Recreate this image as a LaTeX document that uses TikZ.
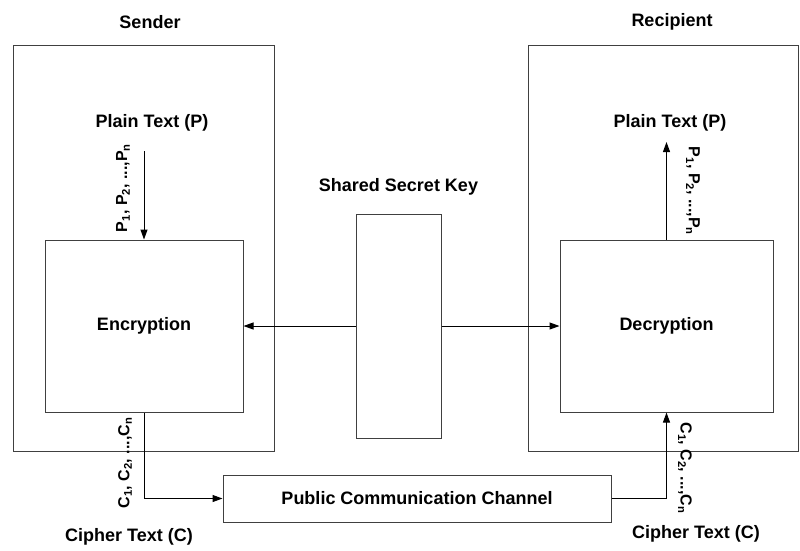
\documentclass[tikz,border=0pt]{standalone}
\usepackage{fontspec}
\setmainfont{Liberation Sans}
\usetikzlibrary{arrows.meta,calc}

\tikzset{
  box/.style={draw=black!75, line width=1pt, rectangle, inner sep=0pt},
  lbl/.style={font=\fontsize{18}{22}\selectfont\bfseries, inner sep=0pt},
  seq/.style={font=\fontsize{16}{20}\selectfont\bfseries, inner sep=0pt},
  arr/.style={draw=black, line width=1pt, -{Triangle[length=10pt,width=7pt]}},
  wire/.style={draw=black, line width=1pt}
}

\begin{document}
\begin{tikzpicture}[x=1pt, y=-1pt]
  \useasboundingbox (0,0) rectangle (800,550);

  % outer party frames
  \node[box, minimum width=261pt, minimum height=406pt] (sender) at (143.5,248) {};
  \node[box, minimum width=270pt, minimum height=406pt] (recip) at (663,248) {};
  \node[lbl] (senderlbl) at (150,22) {Sender};
  \node[lbl] (reciplbl) at (672,22) {Recipient};

  % processing blocks
  \node[box, minimum width=198pt, minimum height=172pt] (enc) at (144,326) {};
  \node[lbl] (enctxt) at (144,326) {Encryption};
  \node[box, minimum width=213pt, minimum height=172pt] (dec) at (666.5,326) {};
  \node[lbl] (dectxt) at (666.5,326) {Decryption};

  % shared key
  \node[box, minimum width=85pt, minimum height=224pt] (key) at (398.5,326) {};
  \node[lbl] (keylbl) at (398.5,187) {Shared Secret Key};

  % public channel
  \node[box, minimum width=388pt, minimum height=47pt] (chan) at (417,498.5) {};
  \node[lbl] (chantxt) at (417,498.5) {Public Communication Channel};

  % plain text side
  \node[lbl] (plainL) at (152,123) {Plain Text (P)};
  \node[lbl] (plainR) at (670,123) {Plain Text (P)};
  \coordinate (pin) at (144,151);
  \coordinate (pout) at (666.5,142);
  \draw[arr] (pin) -- (enc.north);
  \draw[arr] (dec.north) -- (pout);
  \node[seq, rotate=90] (pseqL) at (123,188) {P\textsubscript{1}, P\textsubscript{2}, ...,P\textsubscript{n}};
  \node[seq, rotate=-90] (pseqR) at (693,191) {P\textsubscript{1}, P\textsubscript{2}, ...,P\textsubscript{n}};

  % key distribution
  \draw[arr] (key.west) -- (enc.east);
  \draw[arr] (key.east) -- (dec.west);

  % cipher text path
  \draw[arr] (enc.south) |- (chan.west);
  \draw[arr] (chan.east) -| (dec.south);
  \node[seq, rotate=90] (cseqL) at (125,463) {C\textsubscript{1}, C\textsubscript{2}, ...,C\textsubscript{n}};
  \node[seq, rotate=-90] (cseqR) at (685,468) {C\textsubscript{1}, C\textsubscript{2}, ...,C\textsubscript{n}};
  \node[lbl] (cipherL) at (129,537) {Cipher Text (C)};
  \node[lbl] (cipherR) at (696,534) {Cipher Text (C)};
\end{tikzpicture}
\end{document}
